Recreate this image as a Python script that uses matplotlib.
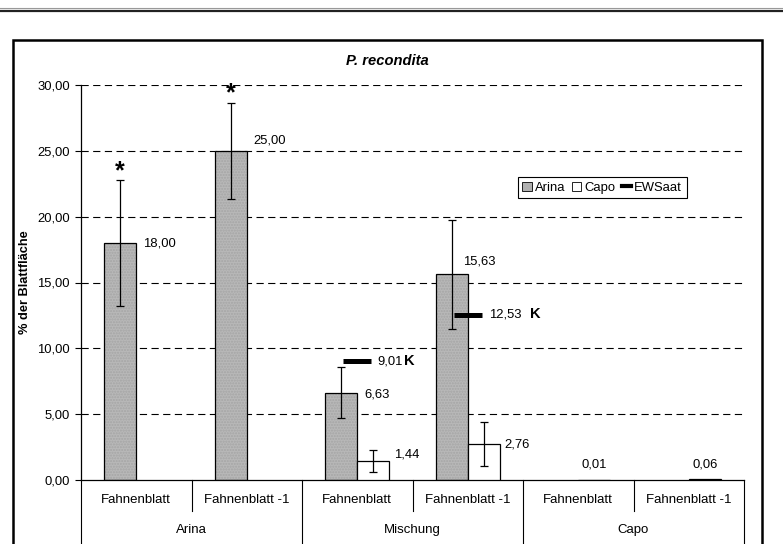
import numpy as np
import matplotlib
matplotlib.use("Agg")
import matplotlib.pyplot as plt
from matplotlib.patches import Patch, Rectangle
from matplotlib.lines import Line2D
from matplotlib.ticker import FuncFormatter

plt.rcParams['font.family'] = ['Liberation Sans', 'DejaVu Sans']

# data
leaves = ["Fahnenblatt", "Fahnenblatt -1"] * 3
groups = ["Arina", "Mischung", "Capo"]
arina = [18.00, 25.00, 6.63, 15.63, np.nan, np.nan]
arina_err = [4.75, 3.65, 1.95, 4.13, np.nan, np.nan]
capo = [np.nan, np.nan, 1.44, 2.76, 0.01, 0.06]
capo_err = [np.nan, np.nan, 0.83, 1.66, np.nan, np.nan]
ewsaat = [np.nan, np.nan, 9.01, 12.53, np.nan, np.nan]
stars = [True, True, False, False, False, False]


def fmt(v):
    return f"{v:.2f}".replace('.', ',')


x = np.arange(len(leaves))
w = 0.29

fig = plt.figure(figsize=(7.83, 5.44), dpi=100)
ax = fig.add_axes([81 / 783, 1 - 480 / 544, 663 / 783, 395 / 544])

# gridlines
for v in range(5, 31, 5):
    ax.axhline(v, color='black', lw=0.8, dashes=(6.5, 4), zorder=0)

gray = '#b8b8b8'
ax.bar(x - w / 2, arina, w, color=gray, edgecolor='#a5a5a5', hatch='......', lw=0, zorder=2)
ax.bar(x - w / 2, arina, w, color='none', edgecolor='black', lw=0.9, zorder=3)
ax.bar(x + w / 2, capo, w, color='white', edgecolor='black', lw=0.9, zorder=3)

ax.errorbar(x - w / 2, arina, yerr=arina_err, fmt='none', ecolor='black',
            elinewidth=0.9, capsize=2.8, capthick=0.9, zorder=4)
ax.errorbar(x + w / 2, capo, yerr=capo_err, fmt='none', ecolor='black',
            elinewidth=0.9, capsize=2.8, capthick=0.9, zorder=4)

ax.plot(x, ewsaat, ls='none', marker='_', markersize=20, mew=3.6,
        color='black', zorder=5)

# value labels
fs = 9.4
for i in range(len(x)):
    if not np.isnan(arina[i]):
        if i == 3:
            ax.text(x[i] - 0.04, arina[i] + 1.0, fmt(arina[i]), fontsize=fs, va='center', ha='left')
        else:
            dy = 0.0 if i == 0 else (0.75 if i == 1 else -0.13)
            ax.text(x[i] + 0.06, arina[i] + dy, fmt(arina[i]), fontsize=fs, va='center', ha='left')
    if not np.isnan(capo[i]):
        if np.isnan(capo_err[i]):
            ax.text(x[i] + w / 2, capo[i] + 1.15, fmt(capo[i]), fontsize=fs, va='center', ha='center')
        else:
            ax.text(x[i] + 0.33, capo[i] + 0.5 if i == 2 else capo[i] - 0.1, fmt(capo[i]),
                    fontsize=fs, va='center', ha='left')
    if not np.isnan(ewsaat[i]):
        if i == 2:
            ax.text(x[i] + 0.185, ewsaat[i], fmt(ewsaat[i]), fontsize=fs, va='center', ha='left')
            ax.text(x[i] + 0.425, ewsaat[i] + 0.05, "K", fontsize=10.5, fontweight='bold', va='center', ha='left')
        else:
            ax.text(x[i] + 0.195, ewsaat[i] + 0.07, fmt(ewsaat[i]), fontsize=fs, va='center', ha='left')
            ax.text(x[i] + 0.56, ewsaat[i] + 0.07, "K", fontsize=10.5, fontweight='bold', va='center', ha='left')
    if stars[i]:
        ax.text(x[i] - w / 2, arina[i] + arina_err[i] + 0.7, "*", fontsize=18,
                fontweight='bold', ha='center', va='center')

ax.set_xlim(-0.5, 5.5)
ax.set_ylim(0, 30)
ax.set_yticks(range(0, 31, 5))
ax.yaxis.set_major_formatter(FuncFormatter(lambda v, p: fmt(v)))
ax.tick_params(axis='y', length=4.5, width=0.8, pad=3.5, labelsize=9.4)
ax.set_xticks([])
for s in ['top', 'right']:
    ax.spines[s].set_visible(False)
ax.spines['left'].set_linewidth(0.9)
ax.spines['bottom'].set_linewidth(0.9)

ax.set_ylabel("% der Blattfläche", fontsize=9.2, fontweight='bold')
ax.yaxis.set_label_coords(-50 / 663, 0.5)

# category axis labels
tr = ax.get_xaxis_transform()
for b in [0.5, 2.5, 4.5]:
    ax.plot([b, b], [0, -0.078], color='black', lw=0.8, transform=tr, clip_on=False)
for b in [-0.5, 1.5, 3.5, 5.5]:
    ax.plot([b, b], [0, -0.17], color='black', lw=0.8, transform=tr, clip_on=False)
for i, lab in enumerate(leaves):
    ax.text(x[i], -0.05, lab, fontsize=9.5, ha='center', va='center', transform=tr)
for g, lab in enumerate(groups):
    ax.text(2 * g + 0.5, -0.127, lab, fontsize=9.5, ha='center', va='center', transform=tr)

# legend
handles = [Patch(facecolor='#b0b0b0', edgecolor='black', lw=0.6),
           Patch(facecolor='white', edgecolor='black', lw=0.6),
           Line2D([], [], color='black', lw=3)]
leg = ax.legend(handles, ["Arina", "Capo", "EWSaat"], loc='upper left',
                bbox_to_anchor=(0.659, 0.767), ncol=3, fontsize=9.4,
                handlelength=0.7, handleheight=0.7, handletextpad=0.25,
                columnspacing=0.5, borderpad=0.35, fancybox=False,
                framealpha=1, edgecolor='black', borderaxespad=0)
leg.get_frame().set_linewidth(0.8)

fig.text(387 / 783, 1 - 61 / 544, "P. recondita", fontsize=10.6, fontweight='bold',
         fontstyle='italic', ha='center', va='center')

# chart frame and top rule
fig.patches.append(Rectangle((13 / 783, -0.02), 749 / 783, 1 - 40 / 544 + 0.02,
                             transform=fig.transFigure, fill=False, lw=1.8,
                             edgecolor='black'))
fig.lines.append(Line2D([0, 1], [1 - 8 / 544, 1 - 8 / 544], transform=fig.transFigure,
                        color='#999999', lw=0.8))
fig.lines.append(Line2D([0, 1], [1 - 11 / 544, 1 - 11 / 544], transform=fig.transFigure,
                        color='#222222', lw=1.6))

fig.savefig("out.png", dpi=100)
